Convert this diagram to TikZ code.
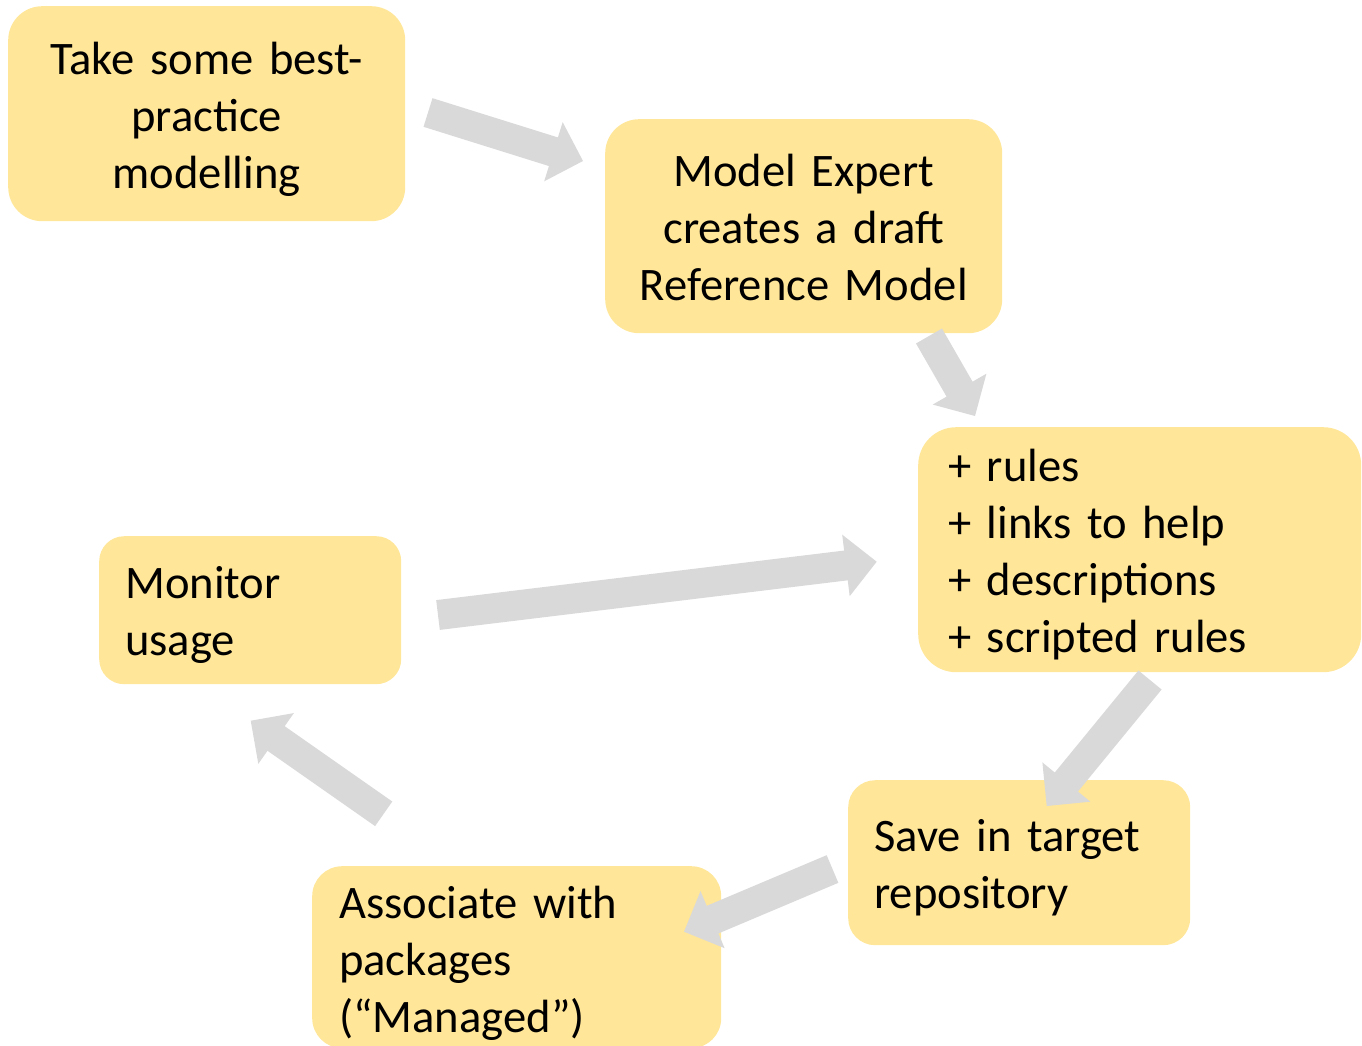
\documentclass[tikz,border=0pt]{standalone}
\usepackage{fontspec}
\setmainfont{Carlito}
\usetikzlibrary{calc}
\definecolor{boxyellow}{HTML}{FFE699}
\definecolor{arrowgray}{HTML}{D9D9D9}
\newcommand{\blockarrow}[2]{%
  \path ($(#2)!31pt!(#1)$) coordinate (hb);
  \fill[arrowgray] ($(#1)!15pt!90:(#2)$) -- ($(hb)!15pt!90:(#2)$) -- ($(hb)!31pt!90:(#2)$) -- (#2)
    -- ($(hb)!31pt!-90:(#2)$) -- ($(hb)!15pt!-90:(#2)$) -- ($(#1)!15pt!-90:(#2)$) -- cycle;
}
\begin{document}
\begin{tikzpicture}[x=1pt,y=-1pt,
  box/.style={fill=boxyellow, draw=none, anchor=north west, inner sep=0pt},
  txt/.style={anchor=center, inner sep=0pt, font=\fontsize{46.6}{57}\selectfont}]
\useasboundingbox (0,0) rectangle (1362,1046);

% boxes
\node[box, rounded corners=34pt, minimum width=397pt, minimum height=215pt] (best) at (8,6) {};
\node[box, rounded corners=34pt, minimum width=397pt, minimum height=214pt] (draft) at (605,119) {};
\node[box, rounded corners=38pt, minimum width=443pt, minimum height=245pt] (rules) at (918,427) {};
\node[box, rounded corners=25pt, minimum width=302pt, minimum height=148pt] (monitor) at (99,536) {};
\node[box, rounded corners=27pt, minimum width=342pt, minimum height=165pt] (save) at (848,780) {};
\node[box, rounded corners=30pt, minimum width=409pt, minimum height=182pt] (assoc) at (312,866) {};

% texts
\node[txt, text width=377pt, align=center] (bestT) at ($(best.center)+(0,6)$)
  {Take some best-\\practice\\modelling};
\node[txt, text width=377pt, align=center] (draftT) at ($(draft.center)+(0,1)$)
  {Model Expert\\creates a draft\\Reference Model};
\node[txt, text width=383pt, align=left] (rulesT) at ($(rules.center)+(0,5)$)
  {+ rules\\+ links to help\\+ descriptions\\+ scripted rules};
\node[txt, text width=250pt, align=left] (monitorT) at ($(monitor.center)+(0,5)$)
  {Monitor\\usage};
\node[txt, text width=290pt, align=left] (saveT) at ($(save.center)+(0,5)$)
  {Save in target\\repository};
\node[txt, text width=355pt, align=left] (assocT) at ($(assoc.center)+(0,6)$)
  {Associate with\\packages\\(“Managed”)};

% block arrows
\coordinate (aT) at (428,112.5);   \coordinate (aH) at (583,161);
\coordinate (bT) at (929,336);     \coordinate (bH) at (975,416);
\coordinate (cT) at (438,615);     \coordinate (cH) at (876.7,561.7);
\coordinate (dT) at (1150,680);    \coordinate (dH) at (1046.7,806);
\coordinate (eT) at (832.5,869);   \coordinate (eH) at (684,931.7);
\coordinate (fT) at (383.7,813.8); \coordinate (fH) at (250.7,720.7);

\blockarrow{aT}{aH}
\blockarrow{bT}{bH}
\blockarrow{cT}{cH}
\blockarrow{dT}{dH}
\blockarrow{eT}{eH}
\blockarrow{fT}{fH}
\end{tikzpicture}
\end{document}
